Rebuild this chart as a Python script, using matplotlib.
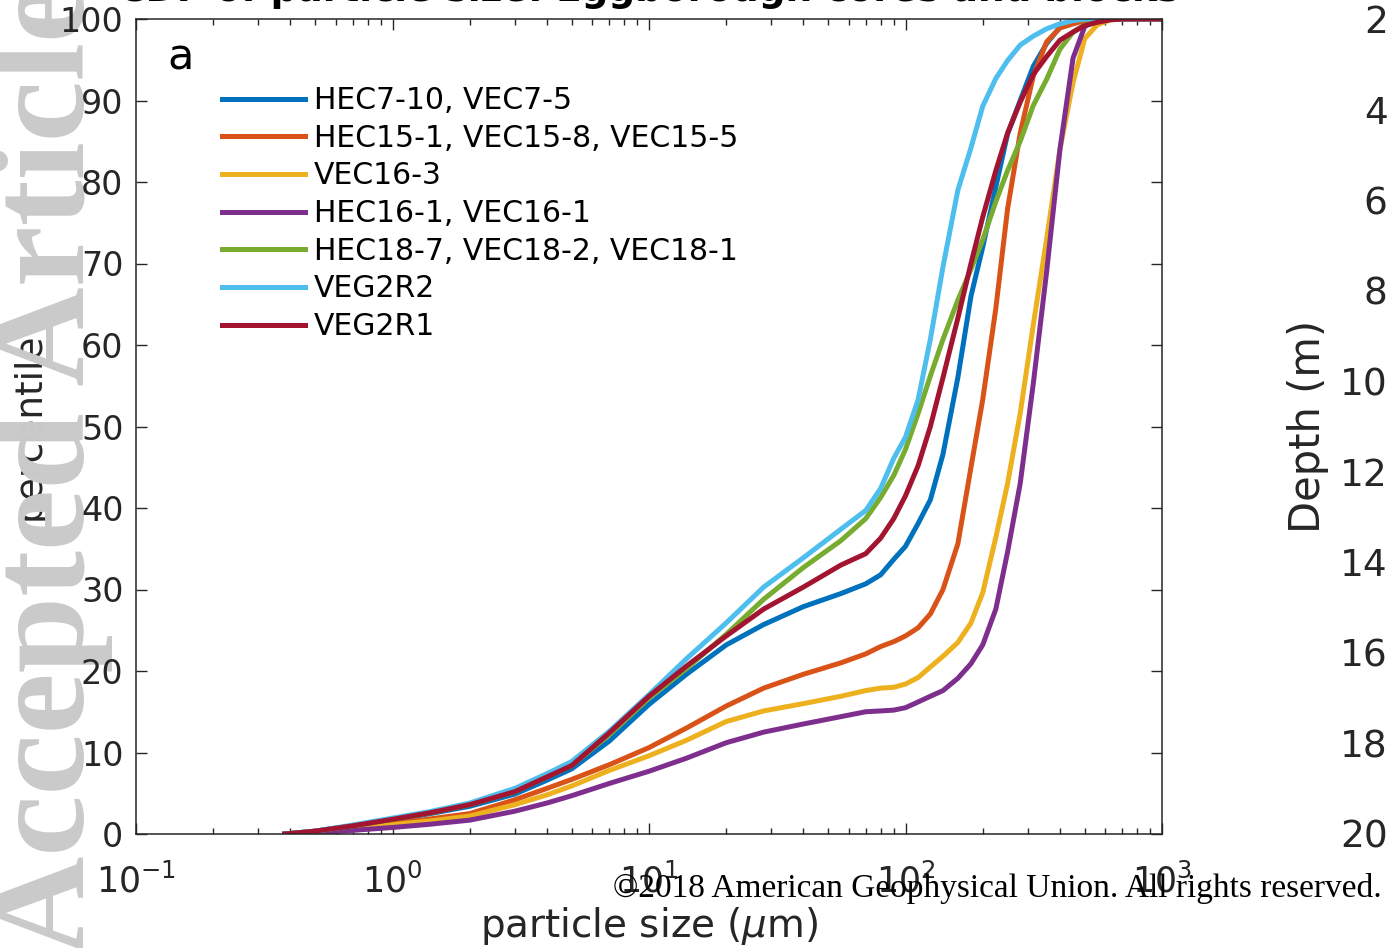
import matplotlib
matplotlib.use("Agg")
import matplotlib.pyplot as plt

plt.rcParams['axes.unicode_minus'] = False
plt.rcParams['font.family'] = ['DejaVu Sans']

# particle size grid (micrometres)
sizes = [0.38, 0.5, 0.7, 1, 1.4, 2, 3, 4, 5, 7, 10, 14, 20, 28, 40, 56, 70, 80, 90,
         100, 112, 125, 140, 160, 180, 200, 225, 250, 280, 315, 355, 400, 450, 500,
         560, 630, 710, 1000]

# cumulative percentiles for each sample group
hec7 = [0, 0.35, 1.0, 1.7, 2.5, 3.4, 4.9, 6.6, 8.0, 11.4, 15.9, 19.6, 23.2, 25.7, 27.9,
        29.5, 30.7, 31.8, 33.7, 35.3, 38.1, 41.0, 46.6, 56.0, 66.0, 72.0, 79.4, 85.9,
        90.0, 94.2, 97.0, 99.0, 99.6, 100, 100, 100, 100, 100]
hec15 = [0, 0.25, 0.7, 1.25, 1.85, 2.5, 4.2, 5.6, 6.7, 8.5, 10.6, 13.0, 15.7, 17.9, 19.6,
         21.0, 22.1, 23.0, 23.6, 24.3, 25.3, 27.0, 30.0, 35.6, 45.0, 53.3, 64.5, 76.7,
         86.0, 93.0, 97.2, 98.9, 99.4, 99.8, 100, 100, 100, 100]
vec16_3 = [0, 0.25, 0.65, 1.15, 1.6, 2.2, 3.6, 4.8, 5.9, 7.8, 9.6, 11.5, 13.8, 15.1, 16.0,
           16.9, 17.6, 17.9, 18.0, 18.4, 19.2, 20.5, 21.8, 23.5, 25.9, 29.6, 36.4, 43.0,
           51.6, 62.5, 73.0, 84.0, 92.2, 97.6, 99.3, 99.9, 100, 100]
hec16 = [0, 0.15, 0.45, 0.8, 1.2, 1.7, 2.8, 3.8, 4.7, 6.2, 7.7, 9.3, 11.2, 12.5, 13.5,
         14.4, 15.0, 15.1, 15.2, 15.5, 16.2, 16.9, 17.6, 19.1, 20.9, 23.2, 27.6, 34.6,
         43.0, 55.3, 69.0, 84.0, 95.2, 99.1, 99.8, 100, 100, 100]
hec18 = [0, 0.35, 1.0, 1.8, 2.6, 3.6, 5.2, 7.0, 8.4, 12.2, 16.7, 20.3, 24.5, 28.8, 32.7,
         36.0, 38.7, 41.3, 44.0, 47.2, 51.6, 56.2, 60.7, 65.5, 69.3, 72.9, 77.6, 81.4,
         85.0, 89.4, 92.6, 96.3, 98.4, 99.3, 99.8, 100, 100, 100]
veg2r2 = [0, 0.35, 1.1, 1.95, 2.75, 3.8, 5.6, 7.4, 8.9, 12.6, 17.1, 21.5, 25.9, 30.3, 33.9,
          37.4, 39.7, 42.4, 46.1, 48.7, 53.3, 60.7, 69.6, 79.0, 84.2, 89.3, 92.7, 94.9,
          96.8, 97.9, 98.8, 99.4, 99.8, 100, 100, 100, 100, 100]
veg2r1 = [0, 0.35, 1.0, 1.8, 2.6, 3.6, 5.2, 7.0, 8.4, 12.4, 16.9, 20.6, 24.3, 27.6, 30.3,
          33.0, 34.4, 36.3, 38.7, 41.5, 45.2, 50.0, 56.0, 63.3, 70.0, 75.7, 81.4, 86.0,
          89.8, 93.2, 95.4, 97.4, 98.4, 99.2, 99.6, 99.9, 100, 100]

labels = ["HEC7-10, VEC7-5", "HEC15-1, VEC15-8, VEC15-5", "VEC16-3", "HEC16-1, VEC16-1",
          "HEC18-7, VEC18-2, VEC18-1", "VEG2R2", "VEG2R1"]
colors = ["#0072BD", "#D95319", "#EDB120", "#7E2F8E", "#77AC30", "#4DBEEE", "#A2142F"]
series = [hec7, hec15, vec16_3, hec16, hec18, veg2r2, veg2r1]

yticks = list(range(0, 101, 10))
depth_ticks = [2, 4, 6, 8, 10, 12, 14, 16, 18, 20]

W, H = 1388, 948
fig = plt.figure(figsize=(W / 100, H / 100), dpi=100)
fig.patch.set_facecolor('white')

ax = fig.add_axes([136 / W, (H - 834) / H, (1162 - 136) / W, (834 - 19) / H])
ax.set_zorder(2)
for s, c, lab in zip(series, colors, labels):
    ax.plot(sizes, s, color=c, lw=3.6, label=lab, solid_joinstyle='round')

ax.set_xscale('log')
ax.set_xlim(0.1, 1000)
ax.set_ylim(0, 100)
ax.set_yticks(yticks)
ax.tick_params(which='both', direction='in', top=True, right=True,
               colors='#262626', width=1.0)
ax.tick_params(which='major', length=8)
ax.tick_params(which='minor', length=4.5)
ax.tick_params(axis='x', pad=21, labelsize=25)
ax.tick_params(axis='y', pad=9, labelsize=24)
for sp in ax.spines.values():
    sp.set_color('#262626')
    sp.set_linewidth(1.1)

ax.set_xlabel(r'particle size ($\mu$m)', fontsize=28, color='#262626', labelpad=4)

leg = ax.legend(loc='upper left', bbox_to_anchor=((222 - 136) / 1026, (834 - 86) / 815),
                frameon=False, fontsize=21.5, handlelength=2.78, handletextpad=0.3,
                labelspacing=0.29, borderpad=0, borderaxespad=0)

ax.text((167 - 136) / 1026, (834 - 70) / 815, 'a', transform=ax.transAxes,
        fontsize=31, color='black', ha='left', va='baseline')

ax.set_title('CDF of particle size: Eggborough cores and blocks', fontsize=27,
             fontweight='bold', y=(834 - 19 + 10) / 815, va='baseline')

# y label drawn at figure level so the watermark can overlap it
fig.text(30 / W, 1 - 426 / H, 'percentile', rotation=90, fontsize=27, color='#262626',
         ha='center', va='center', zorder=0.5)

# neighbouring panel's depth axis (partially visible)
ax2 = fig.add_axes([1396 / W, (H - 834) / H, 0.1, (834 - 19) / H])
ax2.set_ylim(20, 2)
ax2.set_yticks(depth_ticks)
ax2.set_xticks([])
for sp in ax2.spines.values():
    sp.set_visible(False)
ax2.patch.set_visible(False)
ax2.tick_params(axis='y', length=0, pad=6, labelsize=27, colors='#262626')
ax2.set_ylabel('Depth (m)', fontsize=30, color='#262626', labelpad=8)

# watermark and copyright
fig.text(84 / W, 1 - 955 / H, 'Accepted Article', rotation=90, rotation_mode='anchor',
         ha='left', va='baseline', fontsize=99, family='Liberation Serif',
         fontweight='bold', color='#cacaca', zorder=1)
fig.text(1382 / W, 1 - 888 / H, '\u00a92018 American Geophysical Union. All rights reserved.',
         ha='right', va='center', fontsize=24, family='Liberation Serif', color='black',
         zorder=5)

fig.savefig('out.png', dpi=100)
